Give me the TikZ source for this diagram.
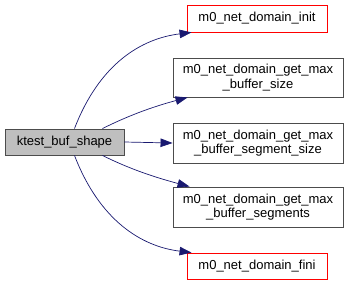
\documentclass[tikz,border=0pt]{standalone}
\usepackage{fontspec}
\setmainfont{Liberation Sans}
\usetikzlibrary{arrows.meta}
\definecolor{edgeblue}{HTML}{191970}
\definecolor{rootgray}{HTML}{BFBFBF}
\definecolor{undocred}{HTML}{FF0000}
\begin{document}
\begin{tikzpicture}[x=1pt,y=-1pt,
  >={Triangle[length=12pt,width=8.5pt]},
  box/.style={draw=black!70, line width=0.9pt, fill=white, align=center, inner sep=0pt,
    font=\fontsize{13}{14.5}\selectfont},
  undoc/.style={box, draw=undocred},
  call/.style={->, draw=edgeblue, line width=0.7pt}]
\useasboundingbox (0,0) rectangle (348,285);
\node[box, fill=rootgray, minimum width=119pt, minimum height=26pt] (ktest) at (64.5,142) {ktest\_buf\_shape};
\node[undoc, minimum width=140pt, minimum height=27pt] (init) at (257,18.5) {m0\_net\_domain\_init};
\node[box, minimum width=170pt, minimum height=39pt] (bufsize) at (258,77.5) {m0\_net\_domain\_get\_max\\\_buffer\_size};
\node[box, minimum width=170pt, minimum height=40pt] (segsize) at (258,143) {m0\_net\_domain\_get\_max\\\_buffer\_segment\_size};
\node[box, minimum width=170pt, minimum height=40pt] (segs) at (258,207) {m0\_net\_domain\_get\_max\\\_buffer\_segments};
\node[undoc, minimum width=140pt, minimum height=26pt] (fini) at (257,266) {m0\_net\_domain\_fini};
\draw[call] ([xshift=10pt]ktest.north) .. controls +(25,-65) and +(-50,6) .. ([xshift=5pt]init.south west);
\draw[call] ([xshift=38pt]ktest.north) .. controls +(30,-15) and +(-30,8) .. ([xshift=15pt]bufsize.south west);
\draw[call] (ktest.east) -- (segsize.west);
\draw[call] ([xshift=38pt]ktest.south) .. controls +(30,15) and +(-30,-8) .. ([xshift=17pt]segs.north west);
\draw[call] ([xshift=10pt]ktest.south) .. controls +(25,65) and +(-50,-6) .. ([xshift=5pt]fini.north west);
\end{tikzpicture}
\end{document}
